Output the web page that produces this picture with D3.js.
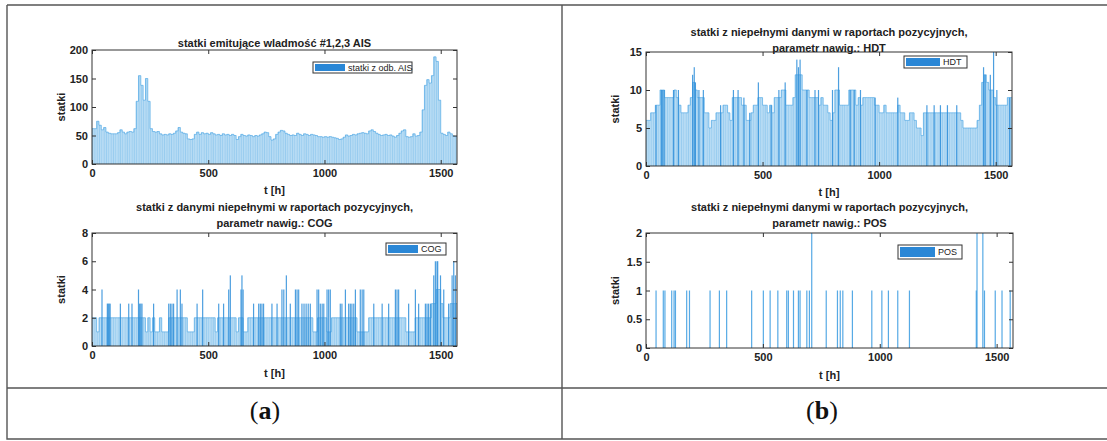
<!DOCTYPE html>
<html><head><meta charset="utf-8">
<script src="https://cdn.jsdelivr.net/npm/d3@7"></script>
<style>
body{margin:0;background:#fff;}
svg{display:block;font-family:"Liberation Sans",Arial,sans-serif;}
</style></head><body>
<svg id="chart" width="1107" height="441"></svg>
<script>
// time axis: hours of observation, values binned per 10 h
const HOURS_MAX = 1570;
const BIN = 10;
const xTicks = [0, 500, 1000, 1500];

// ships transmitting AIS messages #1,2,3 (10 h bins)
const aisBase = [
  62,62,75,68,60,64,56,54,53,53,
  53,55,60,56,53,56,57,56,62,110,
  155,138,112,150,110,62,57,56,57,53,
  51,52,51,53,52,54,58,64,56,54,
  53,44,43,44,52,56,52,55,53,54,
  52,55,53,51,52,50,53,51,52,50,
  52,50,43,48,52,50,49,51,50,48,
  50,49,51,53,56,55,48,42,44,52,
  56,59,58,54,52,50,51,50,54,52,
  50,53,52,50,52,51,50,48,48,47,
  48,47,48,47,46,45,43,44,47,51,
  49,50,52,51,53,54,55,54,53,58,
  60,57,54,52,50,51,52,50,51,49,
  47,50,54,58,60,48,47,48,53,49,
  50,56,95,138,148,142,155,188,180,112,
  54,52,50,56,53,49,48
];
const aisTicks = [0, 50, 100, 150, 200];

// ships with incomplete COG (typical level per 10 h bin + single-hour peaks)
const cogBase = [
  2,2,1,2,2,2,2,2,2,2,
  2,2,2,2,2,2,2,2,2,2,
  2,2,2,1,2,1,2,1,1,2,
  1,1,1,2,2,2,2,2,2,2,
  2,1,1,1,2,2,2,2,2,2,
  2,2,2,1,2,2,2,2,2,2,
  2,2,1,2,2,1,1,2,2,2,
  2,2,2,2,2,2,2,2,2,2,
  2,2,2,2,2,2,2,2,2,2,
  2,2,2,2,2,1,1,2,2,2,
  2,1,1,2,2,2,2,2,2,2,
  2,2,2,2,1,1,1,1,1,2,
  2,2,2,2,2,2,2,2,2,2,
  2,2,2,2,2,1,1,1,1,2,
  2,2,2,2,2,2,3,3,4,4,
  3,2,2,2,3,3,3
];
const cogPeaks = [
  [43,4],[66,3],[70,3],[74,3],[78,3],[122,3],[158,3],[172,3],[200,4],[205,3],
  [210,3],[215,3],[265,3],[330,3],[337,3],[344,3],[351,3],[366,4],[380,4],[387,3],
  [452,3],[476,4],[545,3],[566,3],[588,4],[595,5],[641,4],[645,5],[650,4],[695,3],
  [717,3],[724,3],[731,3],[738,3],[774,3],[796,3],[817,4],[825,4],[836,5],[853,3],
  [875,4],[882,4],[889,4],[903,3],[912,3],[921,3],[930,3],[939,3],[968,4],[975,4],
  [982,3],[990,3],[997,3],[1011,4],[1018,4],[1025,4],[1068,3],[1075,3],[1090,4],[1104,3],
  [1111,3],[1118,3],[1126,3],[1133,4],[1154,4],[1162,4],[1169,4],[1212,3],[1248,3],[1276,3],
  [1305,4],[1312,4],[1319,4],[1362,3],[1391,4],[1405,3],[1434,3],[1441,3],[1448,3],[1456,3],
  [1470,5],[1477,6],[1484,6],[1487,6],[1499,5],[1513,4],[1534,3],[1549,5],[1556,6],[1563,5]
];
const cogTicks = [0, 2, 4, 6, 8];

// ships with incomplete HDT
const hdtBase = [
  6,6,7,7,8,8,10,10,9,9,
  9,9,10,9,8,7,7,7,8,9,
  11,10,9,9,9,7,7,5,6,6,
  7,7,7,8,8,7,6,9,9,9,
  9,8,8,6,6,7,8,8,9,9,
  8,8,7,8,7,9,9,9,10,10,
  8,8,8,9,12,12,12,10,10,10,
  9,9,9,9,8,9,8,8,7,6,
  7,10,10,8,8,8,8,10,10,10,
  8,9,8,9,9,9,9,9,8,8,
  7,7,8,7,7,7,7,7,8,7,
  7,6,6,7,7,6,5,5,4,7,
  7,7,7,7,7,7,7,7,7,7,
  7,7,7,7,7,6,5,5,5,5,
  5,5,6,8,11,12,11,10,10,9,
  8,8,8,8,8,9,9
];
const hdtPeaks = [
  [43,8],[66,10],[72,10],[78,10],[118,10],[139,10],[200,12],[207,13],[212,11],[227,10],
  [246,10],[320,8],[375,10],[395,10],[420,9],[445,7],[482,11],[537,8],[570,10],[597,11],
  [647,14],[654,13],[661,14],[690,10],[725,10],[740,10],[800,10],[826,13],[876,10],[893,10],
  [920,10],[983,9],[1080,9],[1205,8],[1236,8],[1263,8],[1293,8],[1333,8],[1448,13],[1455,12],
  [1477,12],[1491,15],[1505,10],[1560,9]
];
const hdtTicks = [0, 5, 10, 15];

// ships with incomplete POS (hours with a non-zero count)
const posPeaks = [
  [43,1],[74,1],[81,1],[110,1],[120,1],[126,1],[174,1],[186,1],[274,1],[314,1],
  [345,1],[452,1],[502,1],[531,1],[564,1],[602,1],[609,1],[631,1],[652,1],[659,1],
  [688,1],[699,1],[709,2],[771,1],[819,1],[831,1],[842,1],[883,1],[966,1],[1009,1],
  [1037,1],[1077,1],[1127,1],[1413,1],[1416,2],[1441,2],[1448,1],[1494,1],[1523,1],[1558,1]
];
const posTicks = [0, 0.5, 1, 1.5, 2];

const svg = d3.select("#chart");
const FILL = "#b6dbf4", EDGE = "#4aa6e4", PEAK = "#2e8ed9", SWATCH = "#2a87d6";

// outer frame of the figure
const frame = svg.append("g").attr("stroke", "#555").attr("stroke-width", 1.4).attr("fill", "none");
frame.append("path").attr("d", "M7,5H1107M7,5V439H1107M7,388H1107M562,5V439");

function panel(o) {
  const x = d3.scaleLinear().domain([0, HOURS_MAX]).range([o.x0, o.x1]);
  const y = d3.scaleLinear().domain([0, o.yMax]).range([o.y1, o.y0]);
  const g = svg.append("g");

  // binned bars
  if (o.base) {
    const bars = g.append("g");
    bars.selectAll("rect").data(o.base).join("rect")
      .attr("x", (d, i) => x(i * BIN))
      .attr("width", (d, i) => x((i + 1) * BIN) - x(i * BIN) + 0.05)
      .attr("y", d => y(d))
      .attr("height", d => y(0) - y(d))
      .attr("fill", FILL);
    bars.selectAll("line").data(o.base).join("line")
      .attr("x1", (d, i) => x(i * BIN) + 0.4).attr("x2", (d, i) => x(i * BIN) + 0.4)
      .attr("y1", y(0)).attr("y2", d => y(d))
      .attr("stroke", EDGE).attr("stroke-width", 0.6).attr("opacity", 0.5);
    const pts = o.base.map((d, i) => [i * BIN, d]).concat([[o.base.length * BIN, o.base[o.base.length - 1]]]);
    g.append("path").datum(pts)
      .attr("d", d3.line().x(d => x(d[0])).y(d => y(d[1])).curve(d3.curveStepAfter))
      .attr("fill", "none").attr("stroke", EDGE).attr("stroke-width", 0.8).attr("opacity", 0.8);
  }
  // single-hour peaks
  if (o.peaks) {
    g.append("g").selectAll("rect").data(o.peaks).join("rect")
      .attr("x", d => x(d[0]) - 0.6)
      .attr("width", d => Math.max(1.2, x(d[0] + 1) - x(d[0])))
      .attr("y", d => y(d[1]))
      .attr("height", d => y(0) - y(d[1]))
      .attr("fill", o.peakColor || PEAK).attr("opacity", 0.85);
  }

  // axes with inward ticks on all four sides
  const fmt = o.fmt || d3.format("~g");
  const ax = g.append("g");
  ax.append("g").attr("transform", `translate(0,${o.y1})`)
    .call(d3.axisBottom(x).tickValues(xTicks).tickFormat(d3.format("d")).tickSizeInner(-4).tickSizeOuter(0).tickPadding(5));
  ax.append("g").attr("transform", `translate(${o.x0},0)`)
    .call(d3.axisLeft(y).tickValues(o.yTicks).tickFormat(fmt).tickSizeInner(-4).tickSizeOuter(0).tickPadding(4));
  ax.append("g").attr("transform", `translate(0,${o.y0})`)
    .call(d3.axisTop(x).tickValues(xTicks).tickSizeInner(-4).tickSizeOuter(0).tickFormat(""));
  ax.append("g").attr("transform", `translate(${o.x1},0)`)
    .call(d3.axisRight(y).tickValues(o.yTicks).tickSizeInner(-4).tickSizeOuter(0).tickFormat(""));
  ax.selectAll(".domain").remove();
  ax.selectAll(".tick line").attr("stroke", "#333");
  ax.selectAll(".tick text").attr("font-family", "Liberation Sans, Arial, sans-serif")
    .attr("font-size", 11).attr("font-weight", "bold").attr("fill", "#222");
  g.append("rect").attr("x", o.x0).attr("y", o.y0).attr("width", o.x1 - o.x0).attr("height", o.y1 - o.y0)
    .attr("fill", "none").attr("stroke", "#333").attr("stroke-width", 1);

  // titles and axis labels
  o.title.forEach((t, i) => {
    g.append("text").attr("x", (o.x0 + o.x1) / 2).attr("y", o.titleY + i * 16)
      .attr("text-anchor", "middle").attr("font-size", 11).attr("font-weight", "bold").attr("fill", "#222").text(t);
  });
  g.append("text").attr("x", (o.x0 + o.x1) / 2).attr("y", o.xLabelY)
    .attr("text-anchor", "middle").attr("font-size", 11).attr("font-weight", "bold").attr("fill", "#222").text("t [h]");
  g.append("text").attr("transform", `translate(${o.x0 - 27},${(o.y0 + o.y1) / 2}) rotate(-90)`)
    .attr("text-anchor", "middle").attr("font-size", 11).attr("font-weight", "bold").attr("fill", "#222").text("statki");

  // legend
  const L = o.legend;
  g.append("rect").attr("x", L.x).attr("y", L.y).attr("width", L.w).attr("height", L.h)
    .attr("fill", "#fff").attr("stroke", "#333").attr("stroke-width", 1);
  g.append("rect").attr("x", L.x + 2).attr("y", L.y + 2).attr("width", L.sw).attr("height", L.h - 4)
    .attr("fill", SWATCH);
  g.append("text").attr("x", L.x + L.sw + 5).attr("y", L.y + L.h / 2 + 3.3)
    .attr("font-size", 9).attr("fill", "#222").text(L.label);
}

panel({x0: 92, x1: 457, y0: 50, y1: 164, yMax: 200, yTicks: aisTicks,
  base: aisBase, title: ["statki emitujące wladmość #1,2,3 AIS"], titleY: 47, xLabelY: 194,
  legend: {x: 313, y: 62, w: 99, h: 11, sw: 30, label: "statki z odb. AIS"}});

panel({x0: 92, x1: 457, y0: 233, y1: 346, yMax: 8, yTicks: cogTicks,
  base: cogBase, peaks: cogPeaks,
  title: ["statki z danymi niepełnymi w raportach pozycyjnych,", "parametr nawig.: COG"], titleY: 211, xLabelY: 377,
  legend: {x: 386, y: 243, w: 60, h: 12, sw: 30, label: "COG"}});

panel({x0: 646, x1: 1012, y0: 52, y1: 166, yMax: 15, yTicks: hdtTicks,
  base: hdtBase, peaks: hdtPeaks,
  title: ["statki z niepełnymi danymi w raportach pozycyjnych,", "parametr nawig.: HDT"], titleY: 36, xLabelY: 196,
  legend: {x: 904, y: 56, w: 63, h: 12, sw: 34, label: "HDT"}});

panel({x0: 646, x1: 1013, y0: 233, y1: 348, yMax: 2, yTicks: posTicks,
  peaks: posPeaks, peakColor: "#3a9be0",
  title: ["statki z niepełnymi danymi w raportach pozycyjnych,", "parametr nawig.: POS"], titleY: 211, xLabelY: 379,
  legend: {x: 898, y: 245, w: 64, h: 14, sw: 35, label: "POS"}});

// sub-figure captions
const cap = (cx, letter) => {
  const t = svg.append("text").attr("x", cx).attr("y", 419).attr("text-anchor", "middle")
    .attr("font-family", "Liberation Serif, Times New Roman, serif").attr("font-size", 26).attr("fill", "#111");
  t.append("tspan").text("(");
  t.append("tspan").attr("font-weight", "bold").text(letter);
  t.append("tspan").text(")");
};
cap(265, "a");
cap(822, "b");
</script>
</body></html>
